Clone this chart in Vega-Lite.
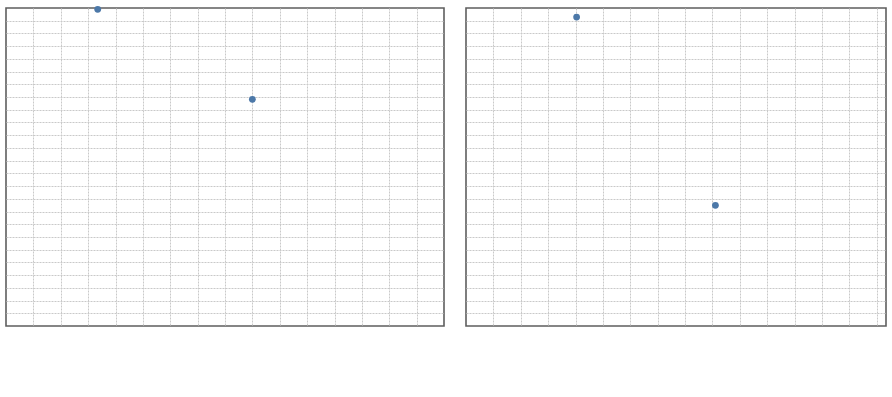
{
  "$schema": "https://vega.github.io/schema/vega-lite/v6.json",
  "data": {"values": [{"panel": "a", "px": 3.35, "py": 24.9, "label": "negative"}, {"panel": "a", "px": 9.00, "py": 17.82, "label": "positive"}, {"panel": "b", "px": 4.04, "py": 24.29, "label": "negative"}, {"panel": "b", "px": 9.11, "py": 9.49, "label": "positive"}]},
  "config": {"view": {"stroke": "#5e5e5e", "strokeWidth": 1.6}},
  "hconcat": [
    {
      "width": 438,
      "height": 318,
      "transform": [{"filter": "datum.panel == 'a'"}],
      "mark": {"type": "point", "filled": true, "opacity": 1, "size": 46},
      "encoding": {
        "x": {"field": "px", "type": "quantitative", "title": null, "scale": {"domain": [0, 16], "nice": false}, "axis": {"values": [1,2,3,4,5,6,7,8,9,10,11,12,13,14,15], "labels": false, "ticks": false, "domain": false, "gridDash": [2, 1], "gridColor": "#c9c9c9"}},
        "y": {"field": "py", "type": "quantitative", "title": null, "scale": {"domain": [0, 25], "nice": false}, "axis": {"values": [1,2,3,4,5,6,7,8,9,10,11,12,13,14,15,16,17,18,19,20,21,22,23,24], "labels": false, "ticks": false, "domain": false, "gridDash": [2, 1], "gridColor": "#c9c9c9"}}
      }
    },
    {
      "width": 420,
      "height": 318,
      "transform": [{"filter": "datum.panel == 'b'"}],
      "mark": {"type": "point", "filled": true, "opacity": 1, "size": 46},
      "encoding": {
        "x": {"field": "px", "type": "quantitative", "title": null, "scale": {"domain": [0, 15.34], "nice": false}, "axis": {"values": [1,2,3,4,5,6,7,8,9,10,11,12,13,14,15], "labels": false, "ticks": false, "domain": false, "gridDash": [2, 1], "gridColor": "#c9c9c9"}},
        "y": {"field": "py", "type": "quantitative", "title": null, "scale": {"domain": [0, 25], "nice": false}, "axis": {"values": [1,2,3,4,5,6,7,8,9,10,11,12,13,14,15,16,17,18,19,20,21,22,23,24], "labels": false, "ticks": false, "domain": false, "gridDash": [2, 1], "gridColor": "#c9c9c9"}}
      }
    }
  ]
}
